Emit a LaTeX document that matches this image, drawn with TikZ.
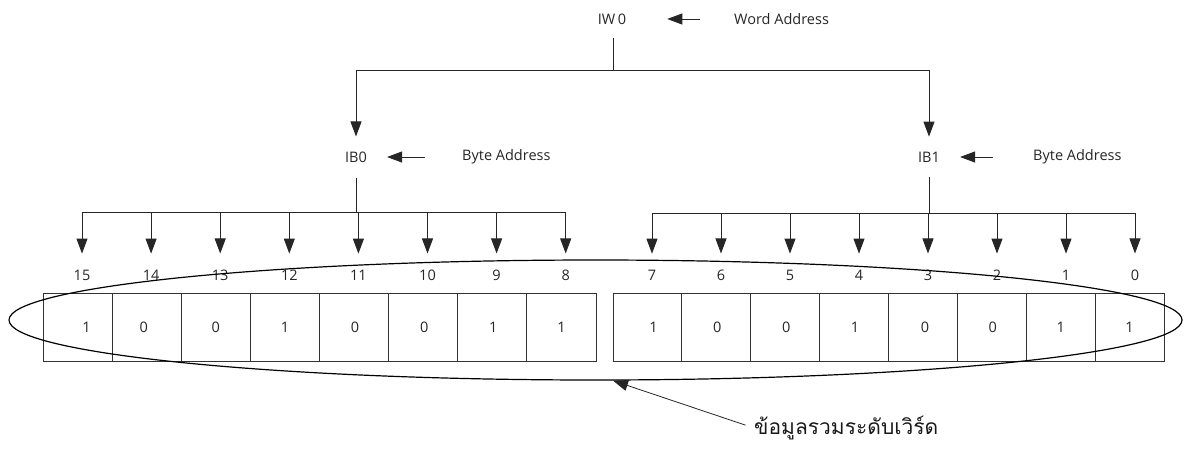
\documentclass[tikz,border=0pt]{standalone}
\usepackage{fontspec}
\setmainfont{Open Sans}
\newfontfamily\thaifont[Script=Thai]{Loma}
\usetikzlibrary{arrows.meta,shapes.geometric}

\tikzset{
  every node/.style={font=\fontsize{14.5}{17}\selectfont, text=black!85},
  wire/.style={line width=0.9pt, draw=black!85},
  arr/.style={wire, -{Triangle[length=15pt,width=11pt]}},
  addr/.style={inner xsep=0pt, inner ysep=15pt},
  tag/.style={inner sep=0pt, anchor=west},
  num/.style={inner xsep=0pt, inner ysep=16pt},
  cell/.style={draw=black!80, line width=0.9pt, minimum width=69.1pt,
               minimum height=68pt, inner sep=0pt, outer sep=0pt},
  cellr/.style={cell, minimum width=68.9pt},
  val/.style={inner sep=0pt},
  group/.style={draw=black, line width=1.2pt, ellipse, minimum width=1173pt,
                minimum height=120pt, inner sep=0pt}
}

\begin{document}
\begin{tikzpicture}[x=1pt, y=-1pt]
  \useasboundingbox (0,0) rectangle (1189,448);

  % word address and its split into two bytes
  \node[addr, inner ysep=13pt] (iw) at (612,19) {IW\,0};
  \node[tag] (wa) at (734,19) {Word Address};
  \draw[arr, shorten <=34pt, shorten >=41pt] (wa.west) -- (iw.east);

  \node[addr] (ib0) at (356,157) {IB0};
  \node[addr] (ib1) at (929,157) {IB1};
  \node[tag] (ba0) at (462,157) {Byte Address};
  \node[tag] (ba1) at (1033,157) {Byte Address};
  \draw[arr, shorten <=37pt, shorten >=20pt] (ba0.west) -- (ib0.east);
  \draw[arr, shorten <=40pt, shorten >=20pt] (ba1.west) -- (ib1.east);

  \coordinate (wj) at (613,70);
  \draw[wire] (iw.south -| wj) -- (wj);
  \draw[arr] (wj) -| (ib0.north);
  \draw[arr] (wj) -| (ib1.north);

  % bit numbers
  \foreach \i [count=\k from 0] in {15,14,13,12,11,10,9,8}
    \node[num] (b\i) at ({82+69.1*\k},275) {\i};
  \foreach \i [count=\k from 0] in {7,6,5,4,3,2,1,0}
    \node[num] (b\i) at ({652+69*\k},275) {\i};

  % byte buses
  \coordinate (busL) at (358,212);
  \coordinate (busR) at (928,213);
  \draw[wire] (b15.north |- busL) -- (b8.north |- busL);
  \draw[wire] (b7.north |- busR) -- (b0.north |- busR);
  \draw[wire] (ib0.south) -- (ib0.south |- busL);
  \draw[wire] (ib1.south) -- (ib1.south |- busR);
  \foreach \i in {15,14,13,12,11,10,9,8}
    \draw[arr] (b\i.north |- busL) -- (b\i.north);
  \foreach \i in {7,6,5,4,3,2,1,0}
    \draw[arr] (b\i.north |- busR) -- (b\i.north);

  % bit cells with their values
  \foreach \i/\v/\dx [count=\k from 0] in
      {15/1/9, 14/0/-3, 13/0/0, 12/1/0, 11/0/1, 10/0/1, 9/1/1, 8/1/0} {
    \node[cell] (c\i) at ({43+69.125*(\k+0.5)},327) {};
    \node[val] (v\i) at ([xshift=\dx pt]c\i.center) {\v};
  }
  \foreach \i/\v/\dx [count=\k from 0] in
      {7/1/6, 6/0/1, 5/0/1, 4/1/1, 3/0/2, 2/0/1, 1/1/0, 0/1/0} {
    \node[cellr] (c\i) at ({613+68.875*(\k+0.5)},327) {};
    \node[val] (v\i) at ([xshift=\dx pt]c\i.center) {\v};
  }

  % the whole word
  \node[group] (word) at (595.5,320) {};
  \node[tag, font=\thaifont\fontsize{21}{25}\selectfont, text=black!90]
    (wl) at (754,428) {ข้อมูลรวมระดับเวิร์ด};
  \draw[arr, line width=0.8pt, shorten <=9pt] (wl.west) -- ([xshift=17.5pt]word.south);
\end{tikzpicture}
\end{document}
